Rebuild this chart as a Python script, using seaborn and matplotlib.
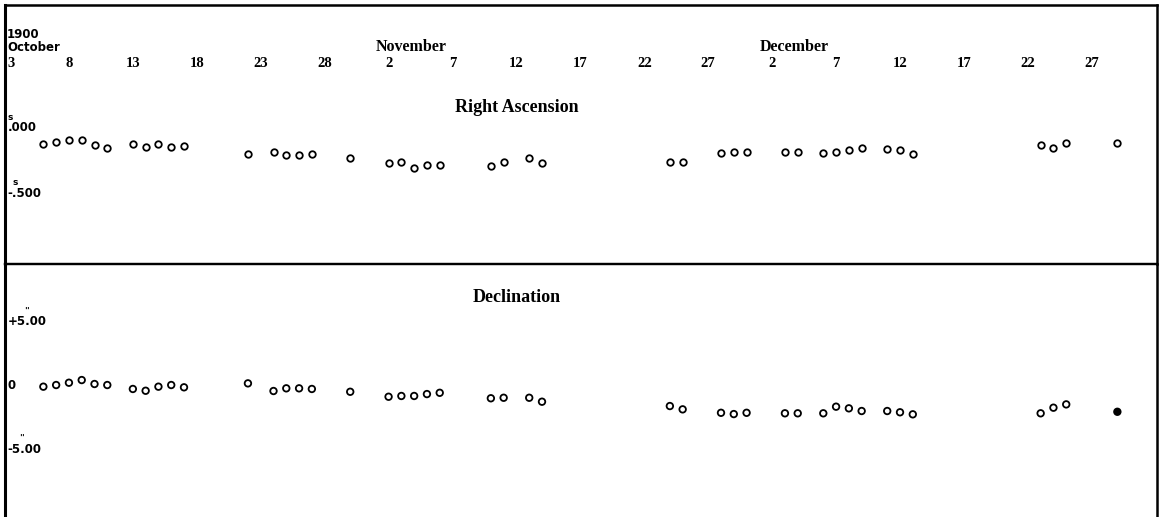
import numpy as np
import pandas as pd
import matplotlib
matplotlib.use("Agg")
import matplotlib.pyplot as plt
import seaborn as sns

START = pd.Timestamp("1900-10-03")
obs_dates = [
    "1900-10-06", "1900-10-07", "1900-10-08", "1900-10-09", "1900-10-10", "1900-10-11",
    "1900-10-13", "1900-10-14", "1900-10-15", "1900-10-16", "1900-10-17",
    "1900-10-22", "1900-10-24", "1900-10-25", "1900-10-26", "1900-10-27", "1900-10-30",
    "1900-11-02", "1900-11-03", "1900-11-04", "1900-11-05", "1900-11-06",
    "1900-11-10", "1900-11-11", "1900-11-13", "1900-11-14",
    "1900-11-24", "1900-11-25", "1900-11-28", "1900-11-29", "1900-11-30",
    "1900-12-03", "1900-12-04", "1900-12-06", "1900-12-07", "1900-12-08", "1900-12-09",
    "1900-12-11", "1900-12-12", "1900-12-13",
    "1900-12-23", "1900-12-24", "1900-12-25", "1900-12-29",
]
# Right ascension residuals (seconds of time)
ra_resid = [
    -0.123, -0.105, -0.092, -0.092, -0.131, -0.152,
    -0.123, -0.148, -0.125, -0.148, -0.136,
    -0.200, -0.187, -0.208, -0.208, -0.202, -0.228,
    -0.272, -0.264, -0.310, -0.285, -0.285,
    -0.292, -0.259, -0.233, -0.272,
    -0.264, -0.259, -0.195, -0.182, -0.187,
    -0.187, -0.187, -0.195, -0.187, -0.169, -0.156,
    -0.162, -0.169, -0.202,
    -0.131, -0.152, -0.118, -0.118,
]
# Declination residuals (seconds of arc)
dec_resid = [
    -0.09, 0.04, 0.22, 0.43, 0.12, 0.04,
    -0.27, -0.41, -0.09, 0.04, -0.14,
    0.17, -0.43, -0.22, -0.22, -0.27, -0.49,
    -0.88, -0.82, -0.82, -0.67, -0.57,
    -1.00, -0.96, -0.96, -1.27,
    -1.61, -1.87, -2.14, -2.24, -2.14,
    -2.18, -2.18, -2.18, -1.66, -1.79, -2.00,
    -2.00, -2.10, -2.26,
    -2.18, -1.74, -1.48, -2.06,
]
dec_filled = [False] * 43 + [True]

tick_dates = [
    "1900-10-03", "1900-10-08", "1900-10-13", "1900-10-18", "1900-10-23", "1900-10-28",
    "1900-11-02", "1900-11-07", "1900-11-12", "1900-11-17", "1900-11-22", "1900-11-27",
    "1900-12-02", "1900-12-07", "1900-12-12", "1900-12-17", "1900-12-22", "1900-12-27",
]
month_labels = ["November", "December"]
month_dates = ["1900-11-01", "1900-12-01"]

ra_ticks = [0.0, -0.5]
ra_tick_labels = [".000", "-.500"]
dec_ticks = [5.0, 0.0, -5.0]
dec_tick_labels = ["+5.00", "0", "-5.00"]


def day_of(date):
    return (pd.Timestamp(date) - START).days


df = pd.DataFrame({
    "day": [day_of(d) for d in obs_dates],
    "ra": ra_resid,
    "dec": dec_resid,
    "filled": dec_filled,
})

sns.set_theme(style="white")
plt.rcParams["font.family"] = ["DejaVu Sans"]
plt.rcParams["text.color"] = "black"
SERIF = ["Liberation Serif", "DejaVu Serif"]

W, H = 1161, 517
fig = plt.figure(figsize=(W / 100, H / 100), dpi=100)
left = 5 / W
width = 1152 / W
ax_ra = fig.add_axes([left, 1 - 264 / H, width, 259 / H])
ax_dec = fig.add_axes([left, 0, width, 253 / H])
ax_dec.patch.set_alpha(0)

for ax in (ax_ra, ax_dec):
    ax.set_xlim(0, 90.1)
    ax.set_xticks([])
    ax.set_yticks([])
    for side, spine in ax.spines.items():
        spine.set_color("black")
        spine.set_linewidth(1.8)
    ax.spines["left"].set_linewidth(2.2)

ax_ra.set_ylim(-1.046, 0.946)
ax_dec.set_ylim(-10.32, 9.54)
ax_dec.spines["bottom"].set_visible(False)
ax_dec.spines["top"].set_linewidth(1.6)
ax_ra.spines["bottom"].set_linewidth(1.6)

sns.scatterplot(data=df, x="day", y="ra", ax=ax_ra, marker="o", s=22,
                color="white", edgecolor="black", linewidth=1.3, zorder=3)
sns.scatterplot(data=df, x="day", y="dec", hue="filled", ax=ax_dec, marker="o", s=22,
                palette={False: "white", True: "black"}, edgecolor="black",
                linewidth=1.3, legend=False, zorder=3)
for ax in (ax_ra, ax_dec):
    ax.set_xlabel("")
    ax.set_ylabel("")

# date scale along the top of the upper panel
xt = ax_ra.get_xaxis_transform()
for d in tick_dates:
    x = day_of(d)
    lab = str(pd.Timestamp(d).day)
    if x == 0:
        ax_ra.annotate(lab, xy=(x, 0.776), xycoords=xt, xytext=(1.5, 0),
                       textcoords="offset points", ha="left", va="center",
                       family=SERIF, fontweight="bold", fontsize=10.5)
    else:
        ax_ra.text(x, 0.776, lab, transform=xt, ha="center", va="center",
                   family=SERIF, fontweight="bold", fontsize=10.5)
for lab, d in zip(month_labels, month_dates):
    ax_ra.text(day_of(d), 0.806, lab, transform=xt, ha="left", va="bottom",
               family=SERIF, fontweight="bold", fontsize=11.5)
ax_ra.annotate("1900", xy=(0, 0.888), xycoords=ax_ra.transAxes, xytext=(1.5, 0),
               textcoords="offset points", ha="left", va="center",
               fontweight="bold", fontsize=8.5)
ax_ra.annotate("October", xy=(0, 0.836), xycoords=ax_ra.transAxes, xytext=(1.5, 0),
               textcoords="offset points", ha="left", va="center",
               fontweight="bold", fontsize=8.5)

ax_ra.text(day_of("1900-11-12"), 0.606, "Right Ascension", transform=xt,
           ha="center", va="center", family=SERIF, fontweight="bold", fontsize=13)
ax_dec.text(day_of("1900-11-12"), 0.868, "Declination", transform=ax_dec.get_xaxis_transform(),
            ha="center", va="center", family=SERIF, fontweight="bold", fontsize=13)


def y_label(ax, val, text, unit, unit_dx):
    yt = ax.get_yaxis_transform()
    ax.annotate(text, xy=(0, val), xycoords=yt, xytext=(2, 0),
                textcoords="offset points", ha="left", va="center",
                fontweight="bold", fontsize=8.5)
    if unit:
        ax.annotate(unit, xy=(0, val), xycoords=yt, xytext=(unit_dx, 4.5),
                    textcoords="offset points", ha="center", va="bottom",
                    fontweight="bold", fontsize=6.5)


for val, lab, dx in zip(ra_ticks, ra_tick_labels, [3.5, 7.0]):
    y_label(ax_ra, val, lab, "s", dx)
for val, lab, dx in zip(dec_ticks, dec_tick_labels, [15.5, None, 12.0]):
    y_label(ax_dec, val, lab, '"' if dx else "", dx)

fig.savefig("out.png", dpi=100)
